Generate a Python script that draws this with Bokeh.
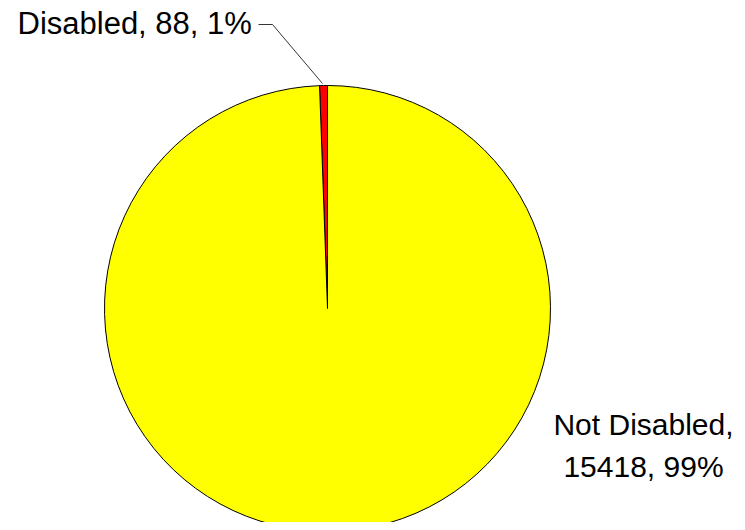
import numpy as np
from bokeh.plotting import figure
from bokeh.models import Range1d, ColumnDataSource
from bokeh.core.properties import value
from bokeh.embed import file_html
from bokeh.resources import INLINE

categories = ["Disabled", "Not Disabled"]
counts = [88, 15418]
colors = ["#FF0000", "#FFFF00"]

W, H = 737, 522
p = figure(width=W, height=H, output_backend="svg", toolbar_location=None,
           x_range=Range1d(0, W), y_range=Range1d(0, H), min_border=0)
p.axis.visible = False
p.grid.visible = False
p.outline_line_color = None
p.background_fill_color = "white"
p.border_fill_color = "white"

cx, cy, r = 327, 214, 223
vals = np.array(counts, dtype=float)
frac = vals / vals.sum()
ang = np.concatenate([[0], np.cumsum(frac * 2 * np.pi)]) + np.pi / 2
src = ColumnDataSource(dict(start=ang[:-1], end=ang[1:], color=colors))
p.wedge(x=cx, y=cy, radius=r, start_angle="start", end_angle="end",
        fill_color="color", line_color="black", line_width=1, source=src)

labels = [f"{c}, {v}, {round(f*100):.0f}%" for c, v, f in zip(categories, counts, frac)]

font = value("Liberation Sans")
p.text(x=[17], y=[499], text=[labels[0]], text_font=font, text_font_size="31px",
       text_baseline="middle", text_align="left", text_color="black")
p.line(x=[258, 272, 322], y=[498, 498, 439], line_color="black", line_width=0.8)

lbl2 = f"{categories[1]},\n{counts[1]}, {round(frac[1]*100):.0f}%"
p.text(x=[643], y=[115], text=[lbl2], text_font=font, text_font_size="30px",
       text_baseline="top", text_align="center", text_color="black",
       text_line_height=1.3)

open("out.html", "w").write(file_html(p, INLINE))
